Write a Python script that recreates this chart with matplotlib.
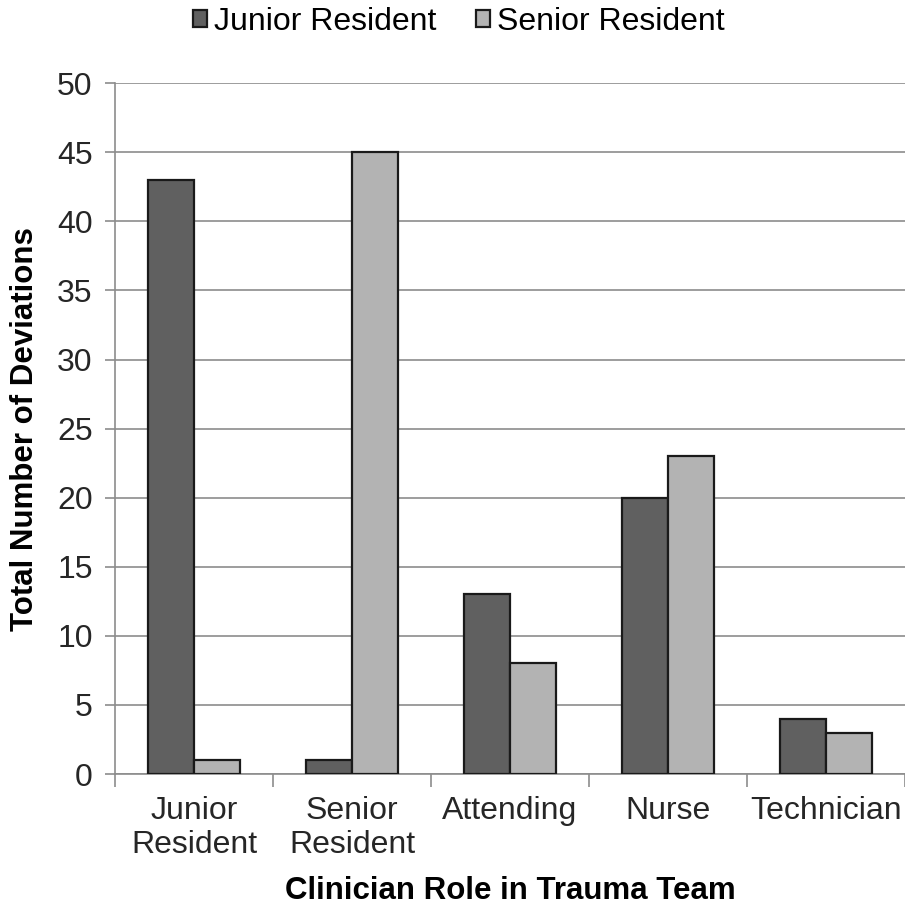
import numpy as np
import matplotlib.pyplot as plt
from matplotlib.ticker import FixedLocator

plt.rcParams['font.family'] = ['Liberation Sans', 'DejaVu Sans']

roles = ["Junior\nResident", "Senior\nResident", "Attending", "Nurse", "Technician"]
junior = [43, 1, 13, 20, 4]
senior = [1, 45, 8, 23, 3]

fig = plt.figure(figsize=(9.05, 9.09), dpi=100)
ax = fig.add_axes([0.127, 0.1485, 0.873, 0.76])

x = np.arange(len(roles))
w = 0.29
ax.bar(x - w / 2, junior, w, color="#606060", edgecolor="#1a1a1a", linewidth=1.6,
       label="Junior Resident", zorder=3)
ax.bar(x + w / 2, senior, w, color="#b3b3b3", edgecolor="#1a1a1a", linewidth=1.6,
       label="Senior Resident", zorder=3)

ax.set_xlim(-0.5, len(roles) - 0.5)
ax.set_ylim(0, 50)
ax.set_yticks(range(0, 51, 5))
ax.set_xticks(x)
ax.set_xticklabels(roles, fontsize=23, color="#262626", linespacing=1.15)
ax.xaxis.set_minor_locator(FixedLocator(np.arange(-0.5, len(roles), 1)))
ax.tick_params(axis="x", which="major", length=0, pad=16)
ax.tick_params(axis="x", which="minor", length=9, width=1.2, color="#8c8c8c", direction="out")
ax.tick_params(axis="y", labelsize=23, labelcolor="#262626", length=7, width=1.2,
               color="#8c8c8c", pad=9)

ax.grid(axis="y", color="#8c8c8c", linewidth=1.2, zorder=0)
for side in ("top", "right"):
    ax.spines[side].set_visible(False)
for side in ("left", "bottom"):
    ax.spines[side].set_color("#8c8c8c")
    ax.spines[side].set_linewidth(1.2)

ax.set_xlabel("Clinician Role in Trauma Team", fontsize=22.5, fontweight="bold", labelpad=12)
ax.set_ylabel("Total Number of Deviations", fontsize=22.5, fontweight="bold", labelpad=12)

ax.legend(loc="center", bbox_to_anchor=(0.435, 1.089), ncol=2, frameon=False,
          fontsize=23, handlelength=0.45, handleheight=0.45, handletextpad=0.2,
          columnspacing=1.25)

plt.savefig("out.png", dpi=100)
